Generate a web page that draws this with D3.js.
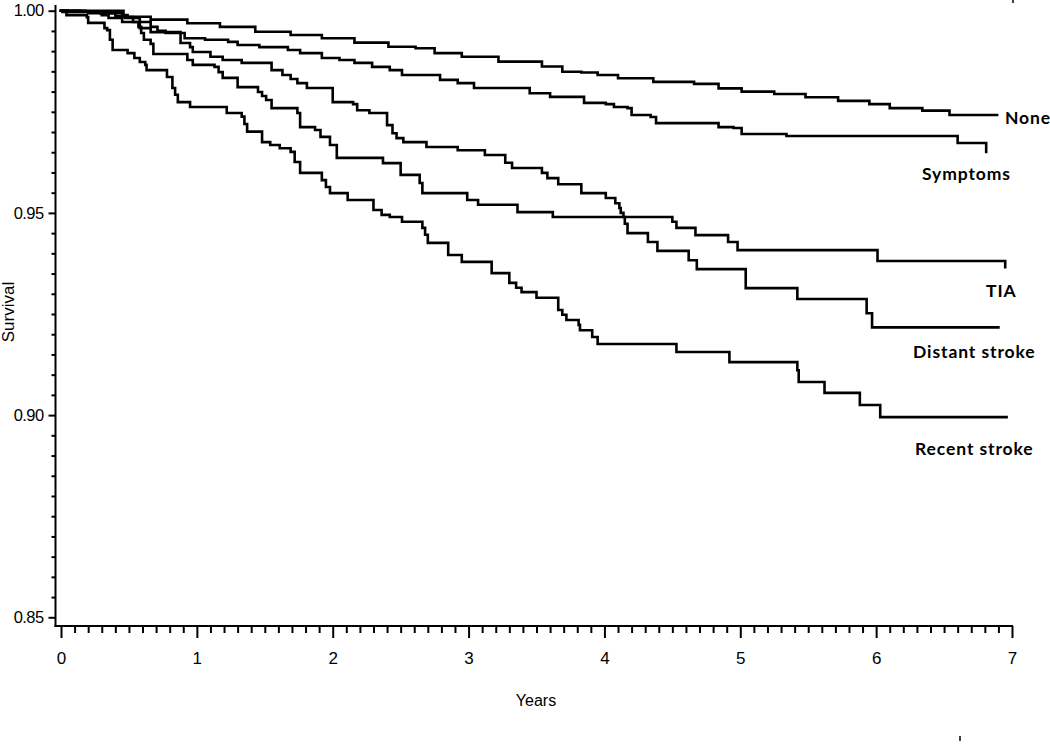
<!DOCTYPE html>
<html>
<head>
<meta charset="utf-8">
<script src="https://cdn.jsdelivr.net/npm/d3@7"></script>
<style>
  html, body { margin: 0; padding: 0; background: #fff; }
  svg { display: block; }
  .tick text { font-family: "Liberation Sans", Arial, sans-serif; fill: #000; }
  .lbl { font-family: Lato, "Open Sans", sans-serif; font-weight: 700; fill: #000; }
</style>
</head>
<body>
<svg id="chart" width="1050" height="746"></svg>
<script>
// ---- Data (time in years, survival) ----
const groups = ["None", "Symptoms", "TIA", "Distant stroke", "Recent stroke"];

const noneT = [0, 0.14, 0.29, 0.45, 0.66, 0.93, 1.17, 1.43, 1.69, 1.92, 2.16, 2.41, 2.61, 2.75, 2.95, 3.22, 3.54, 3.69, 3.83, 3.95, 4.10, 4.36, 4.66, 4.84, 5.01, 5.25, 5.48, 5.72, 5.95, 6.10, 6.34, 6.54, 6.89];
const noneS = [1.0, 0.9998, 0.9994, 0.9985, 0.9978, 0.9969, 0.9960, 0.9948, 0.9940, 0.9932, 0.9921, 0.9911, 0.9907, 0.9895, 0.9886, 0.9874, 0.9862, 0.9849, 0.9847, 0.9841, 0.9833, 0.9824, 0.9819, 0.9808, 0.9800, 0.9794, 0.9786, 0.9777, 0.9769, 0.9759, 0.9753, 0.9742, 0.9742];

const sympT = [0, 0.18, 0.29, 0.40, 0.47, 0.58, 0.66, 0.71, 0.77, 0.91, 1.06, 1.23, 1.30, 1.46, 1.67, 1.76, 1.92, 2.05, 2.16, 2.29, 2.42, 2.51, 2.79, 2.92, 3.04, 3.45, 3.60, 3.85, 4.01, 4.07, 4.17, 4.20, 4.34, 4.38, 4.84, 4.95, 5.01, 5.34, 6.60, 6.81];
const sympS = [1.0, 0.9998, 0.9994, 0.9987, 0.9982, 0.9972, 0.9960, 0.9950, 0.9945, 0.9932, 0.9928, 0.9923, 0.9915, 0.9910, 0.9903, 0.9895, 0.9883, 0.9878, 0.9871, 0.9861, 0.9853, 0.9841, 0.9829, 0.9821, 0.9809, 0.9796, 0.9787, 0.9772, 0.9769, 0.9762, 0.9759, 0.9742, 0.9737, 0.9722, 0.9712, 0.9710, 0.9695, 0.9690, 0.9673, 0.9651];

const tiaT = [0, 0.05, 0.20, 0.30, 0.35, 0.45, 0.57, 0.59, 0.61, 0.66, 0.68, 0.93, 0.97, 1.13, 1.16, 1.19, 1.30, 1.45, 1.48, 1.51, 1.55, 1.74, 1.76, 1.87, 1.91, 1.98, 2.03, 2.37, 2.50, 2.64, 2.66, 2.99, 3.07, 3.36, 3.62, 4.50, 4.53, 4.67, 4.91, 4.98, 6.01, 6.95];
const tiaS = [1.0, 0.9997, 0.9994, 0.9989, 0.9982, 0.9972, 0.9960, 0.9945, 0.9928, 0.9918, 0.9893, 0.9878, 0.9866, 0.9861, 0.9848, 0.9834, 0.9811, 0.9799, 0.9789, 0.9779, 0.9759, 0.9747, 0.9712, 0.9705, 0.9688, 0.9668, 0.9636, 0.9623, 0.9594, 0.9574, 0.9549, 0.9532, 0.9520, 0.9502, 0.9490, 0.9478, 0.9463, 0.9445, 0.9428, 0.9408, 0.9381, 0.9366];

const distT = [0, 0.46, 0.49, 0.53, 0.58, 0.66, 0.88, 0.95, 0.97, 1.10, 1.19, 1.33, 1.55, 1.63, 1.69, 1.74, 1.81, 2.00, 2.15, 2.18, 2.27, 2.40, 2.44, 2.47, 2.52, 2.69, 2.92, 3.12, 3.27, 3.32, 3.54, 3.58, 3.66, 3.83, 4.01, 4.08, 4.11, 4.12, 4.14, 4.15, 4.17, 4.32, 4.39, 4.62, 4.68, 5.04, 5.42, 5.93, 5.97, 6.90];
const distS = [1.0, 0.9989, 0.9984, 0.9972, 0.9957, 0.9947, 0.9920, 0.9910, 0.9898, 0.9886, 0.9878, 0.9871, 0.9853, 0.9841, 0.9831, 0.9821, 0.9809, 0.9774, 0.9769, 0.9754, 0.9747, 0.9717, 0.9697, 0.9685, 0.9675, 0.9663, 0.9655, 0.9643, 0.9624, 0.9611, 0.9599, 0.9586, 0.9571, 0.9549, 0.9537, 0.9524, 0.9512, 0.9500, 0.9490, 0.9473, 0.9450, 0.9428, 0.9406, 0.9383, 0.9361, 0.9314, 0.9287, 0.9252, 0.9217, 0.9217];

const recT = [0, 0.01, 0.04, 0.19, 0.20, 0.32, 0.34, 0.36, 0.38, 0.49, 0.54, 0.58, 0.62, 0.63, 0.78, 0.82, 0.84, 0.86, 0.95, 1.22, 1.33, 1.35, 1.37, 1.48, 1.54, 1.61, 1.69, 1.72, 1.76, 1.92, 1.95, 1.98, 2.11, 2.30, 2.36, 2.42, 2.51, 2.66, 2.68, 2.70, 2.85, 2.95, 3.17, 3.30, 3.35, 3.39, 3.50, 3.66, 3.69, 3.72, 3.81, 3.82, 3.91, 3.95, 4.53, 4.92, 5.42, 5.43, 5.62, 5.88, 6.03, 6.96];
const recS = [1.0, 0.9997, 0.9989, 0.9984, 0.9970, 0.9957, 0.9952, 0.9928, 0.9903, 0.9895, 0.9883, 0.9873, 0.9866, 0.9853, 0.9836, 0.9809, 0.9792, 0.9774, 0.9762, 0.9747, 0.9738, 0.9720, 0.9701, 0.9675, 0.9668, 0.9660, 0.9651, 0.9626, 0.9599, 0.9581, 0.9564, 0.9549, 0.9532, 0.9507, 0.9495, 0.9490, 0.9478, 0.9463, 0.9446, 0.9426, 0.9396, 0.9379, 0.9351, 0.9327, 0.9315, 0.9304, 0.9290, 0.9260, 0.9248, 0.9235, 0.9223, 0.9210, 0.9193, 0.9176, 0.9156, 0.9131, 0.9111, 0.9082, 0.9055, 0.9025, 0.8995, 0.8995];

const xMajor = [0, 1, 2, 3, 4, 5, 6, 7];
const yMajor = [0.85, 0.90, 0.95, 1.00];
const yTickLabels = ["0.85", "0.90", "0.95", "1.00"];
const xTitle = "Years";
const yTitle = "Survival";

// ---- Layout ----
const svg = d3.select("#chart");
const axisX = 55.5, axisY = 626;
const x = d3.scaleLinear().domain([0, 7]).range([61, 1012]);
const y = d3.scaleLinear().domain([0.85, 1.0]).range([617.3, 10.7]);

const xMinor = d3.range(0, 70).map(i => i / 10).filter(v => !xMajor.includes(Math.round(v * 10) / 10));
const yMinor = d3.range(0, 31).map(i => 0.85 + i * 0.005).filter(v => !yMajor.some(m => Math.abs(m - v) < 1e-9));

// axes
const gx = svg.append("g").attr("transform", `translate(0,${axisY})`);
gx.call(d3.axisBottom(x).tickValues(xMajor).tickFormat(d3.format("d")).tickSize(12).tickPadding(14).tickSizeOuter(0));
gx.append("g").call(d3.axisBottom(x).tickValues(xMinor).tickFormat("").tickSize(7).tickSizeOuter(0));
gx.selectAll(".domain").remove();
gx.selectAll("line").attr("stroke", "#000").attr("stroke-width", 2);
gx.selectAll("text").attr("font-size", 17);

const gy = svg.append("g").attr("transform", `translate(${axisX},0)`);
gy.call(d3.axisLeft(y).tickValues(yMajor).tickFormat((d, i) => yTickLabels[i]).tickSize(7).tickPadding(5).tickSizeOuter(0));
gy.append("g").call(d3.axisLeft(y).tickValues(yMinor).tickFormat("").tickSize(4).tickSizeOuter(0));
gy.selectAll(".domain").remove();
gy.selectAll("line").attr("stroke", "#000").attr("stroke-width", 2);
gy.selectAll("text").attr("font-size", 16.5).attr("letter-spacing", -0.6);

// axis lines
svg.append("line").attr("x1", axisX).attr("x2", axisX).attr("y1", 5).attr("y2", axisY + 1)
  .attr("stroke", "#000").attr("stroke-width", 2);
svg.append("line").attr("x1", axisX - 1).attr("x2", 1013).attr("y1", axisY).attr("y2", axisY)
  .attr("stroke", "#000").attr("stroke-width", 2);

// curves
const series = [
  { name: groups[0], t: noneT, s: noneS },
  { name: groups[1], t: sympT, s: sympS },
  { name: groups[2], t: tiaT, s: tiaS },
  { name: groups[3], t: distT, s: distS },
  { name: groups[4], t: recT, s: recS }
];
const line = d3.line().x(d => x(d[0])).y(d => y(d[1])).curve(d3.curveStepAfter);
svg.append("g").selectAll("path").data(series).join("path")
  .attr("d", d => line(d.t.map((t, i) => [t, d.s[i]])))
  .attr("fill", "none").attr("stroke", "#000").attr("stroke-width", 2.6)
  .attr("stroke-linejoin", "miter").attr("stroke-linecap", "square");

// right-hand labels
const labelPos = [
  { x: 1005, y: 124 }, { x: 922, y: 180 }, { x: 986, y: 297 }, { x: 913, y: 358 }, { x: 915, y: 455 }
];
svg.append("g").selectAll("text").data(groups).join("text")
  .attr("class", "lbl").attr("x", (d, i) => labelPos[i].x).attr("y", (d, i) => labelPos[i].y)
  .attr("font-size", 17.5).attr("letter-spacing", 0.9).text(d => d);

// titles
svg.append("text").attr("x", 536).attr("y", 706).attr("text-anchor", "middle")
  .attr("font-family", "'Liberation Sans', Arial, sans-serif").attr("font-size", 16).text(xTitle);
svg.append("text").attr("transform", "translate(14,312) rotate(-90)").attr("text-anchor", "middle")
  .attr("font-family", "'Liberation Sans', Arial, sans-serif").attr("font-size", 17).text(yTitle);

// small marks at image edges
svg.append("line").attr("x1", 1013).attr("x2", 1013).attr("y1", 0).attr("y2", 3).attr("stroke", "#000").attr("stroke-width", 1.5);
svg.append("line").attr("x1", 960).attr("x2", 960).attr("y1", 736).attr("y2", 741).attr("stroke", "#000").attr("stroke-width", 1.5);
</script>
</body>
</html>
